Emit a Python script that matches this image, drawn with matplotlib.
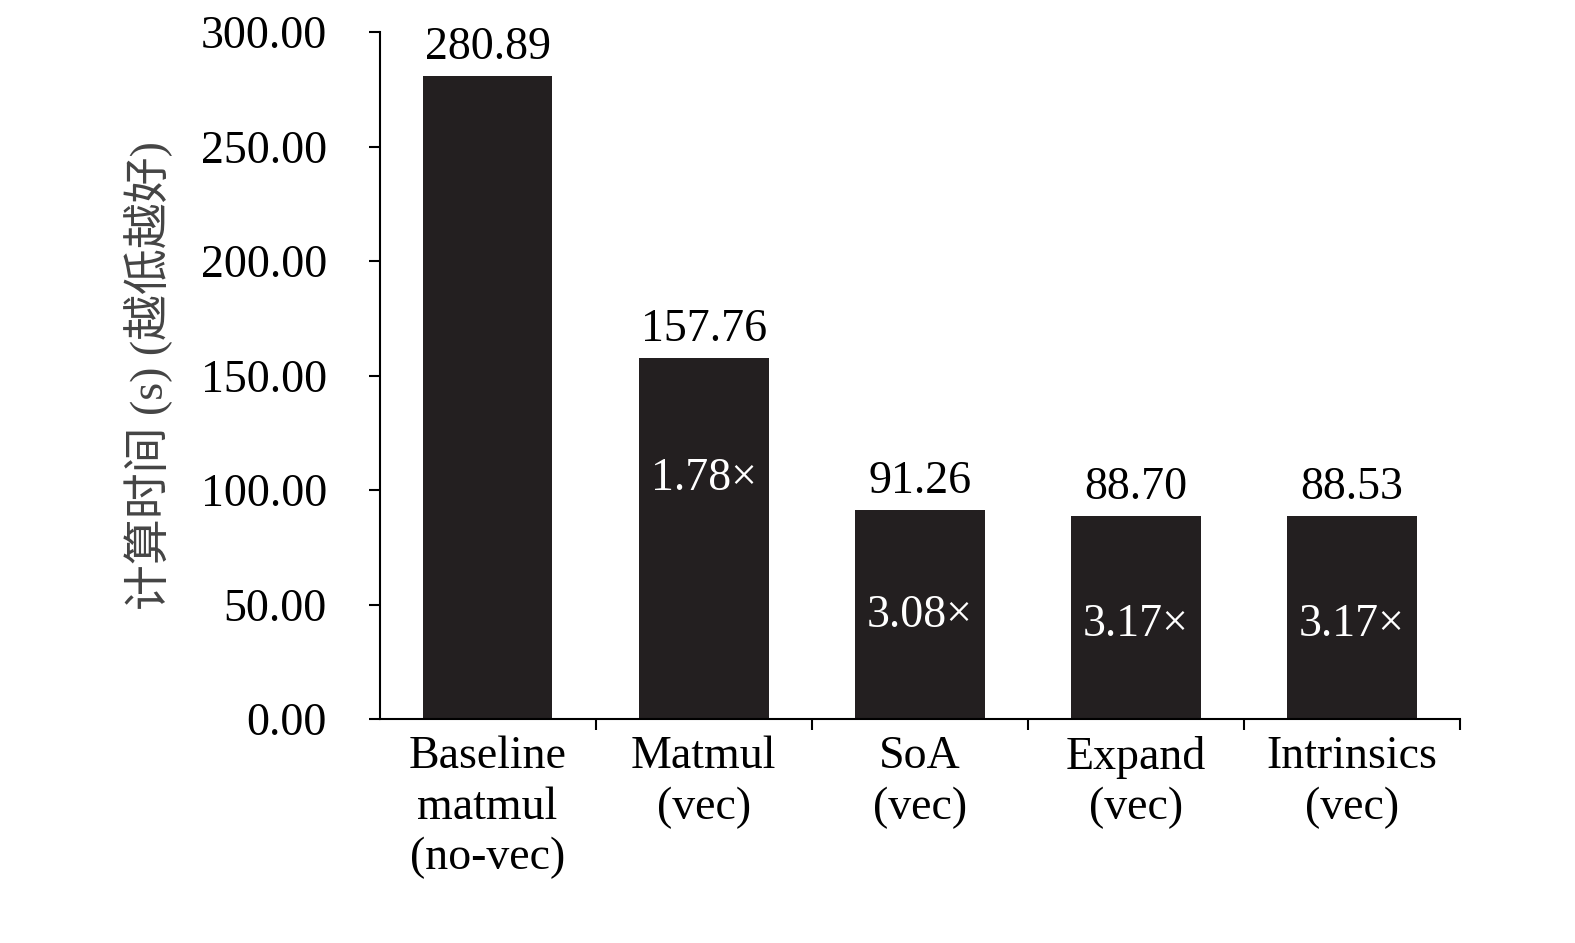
import matplotlib
matplotlib.use("Agg")
import matplotlib.pyplot as plt

categories = ["Baseline\nmatmul\n(no-vec)", "Matmul\n(vec)", "SoA\n(vec)", "Expand\n(vec)", "Intrinsics\n(vec)"]
times = [280.89, 157.76, 91.26, 88.70, 88.53]
speedups = ["", "1.78×", "3.08×", "3.17×", "3.17×"]
speedup_y = [0, 105, 45, 41, 41]
yticks = [0, 50, 100, 150, 200, 250, 300]

plt.rcParams['font.family'] = ['Liberation Serif', 'Noto Sans CJK SC']
fs = 33
fig = plt.figure(figsize=(15.75, 9.43), dpi=100)
ax = fig.add_axes([0.241, 0.2375, 0.686, 0.7285])
x = list(range(len(categories)))
ax.bar(x, times, width=0.6, color='#231f20')
for i, (t, s, sy) in enumerate(zip(times, speedups, speedup_y)):
    ax.text(i, t + 3, f"{t:.2f}", ha='center', va='bottom', fontsize=fs)
    if s:
        ax.text(i, sy, s, ha='center', va='center', fontsize=fs, color='white')
ax.set_xlim(-0.5, 4.5)
ax.set_ylim(0, 300)
ax.set_yticks(yticks)
ax.set_yticklabels([f"{v:.2f}" for v in yticks], fontsize=fs)
ax.set_xticks(x)
ax.set_xticklabels(categories, fontsize=fs, linespacing=1.25)
ax.tick_params(axis='x', length=0, pad=12)
ax.set_xticks([0.5, 1.5, 2.5, 3.5, 4.5], minor=True)
ax.tick_params(axis='x', which='minor', length=8, direction='out', width=1.5)
ax.tick_params(axis='y', length=8, width=1.5, pad=30)
for lbl in ax.get_yticklabels():
    lbl.set_horizontalalignment('right')
ax.set_ylabel("计算时间 (s) (越低越好)", fontsize=fs, labelpad=20,
              family=['Liberation Serif', 'Noto Sans CJK SC'], color='#444444')
ax.spines['top'].set_visible(False)
ax.spines['right'].set_visible(False)
ax.spines['left'].set_linewidth(1.5)
ax.spines['bottom'].set_linewidth(1.5)
fig.savefig("out.png", dpi=100)
